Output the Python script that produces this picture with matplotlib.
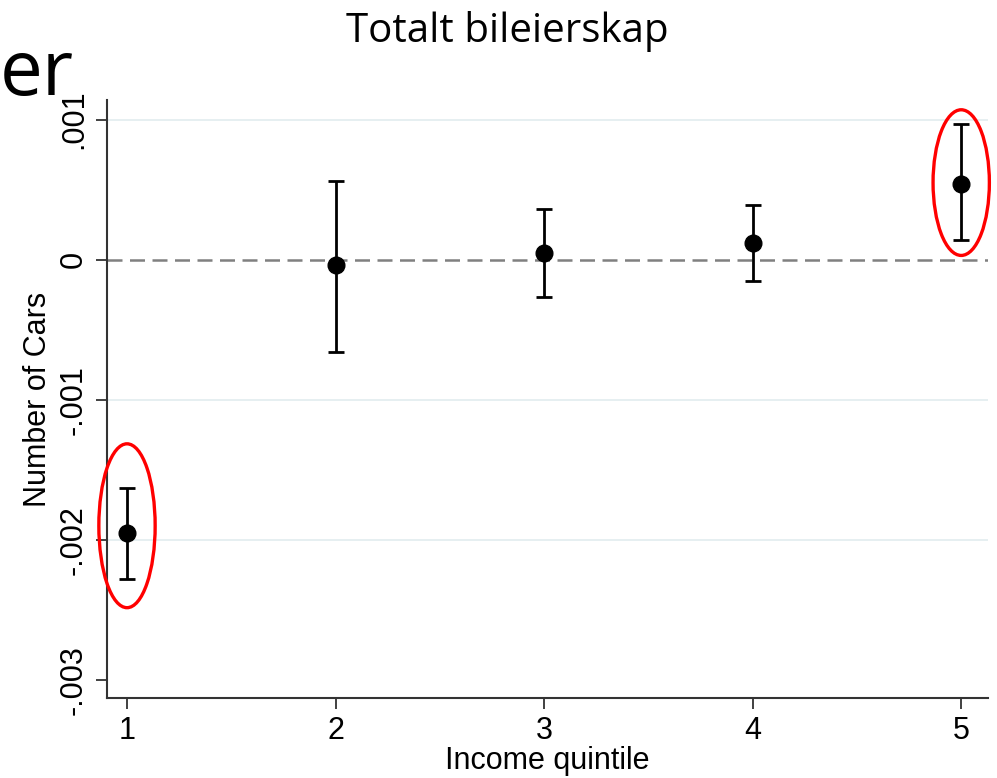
import matplotlib.pyplot as plt
from matplotlib.patches import Ellipse
import numpy as np

quintiles = [1, 2, 3, 4, 5]
coef = [-0.00195, -0.00004, 0.00005, 0.00012, 0.00054]
ci_low = [-0.00228, -0.00066, -0.00027, -0.00015, 0.00014]
ci_high = [-0.00163, 0.00056, 0.00036, 0.00039, 0.00097]

ytick_vals = [-0.003, -0.002, -0.001, 0, 0.001]
ytick_labels = ["-.003", "-.002", "-.001", "0", ".001"]
grid_vals = [-0.002, -0.001, 0.001]

# red rings: (quintile, centre y, height)
rings = [(1, -0.00190, 0.00117), (5, 0.00055, 0.00104)]

plt.rcParams['font.family'] = ['Liberation Sans Narrow', 'Liberation Sans', 'DejaVu Sans']

fig = plt.figure(figsize=(9.97, 7.78), dpi=100)
ax = fig.add_axes([0.1073, 0.1028, 0.884, 0.7687])

# light grid lines, dashed zero reference
for v in grid_vals:
    ax.axhline(v, color="#e4eef0", lw=1.3, zorder=0)
ax.axhline(0, color="#808080", lw=1.8, ls=(0, (6, 3)), zorder=1)

c = np.array(coef)
yerr = [c - np.array(ci_low), np.array(ci_high) - c]
ax.errorbar(quintiles, coef, yerr=yerr, fmt="o", color="black", ms=12,
            elinewidth=2, capsize=5.5, capthick=2, zorder=3)

for q, yc, h in rings:
    ax.add_patch(Ellipse((q, yc), 0.27, h, fill=False, ec="red", lw=2.4,
                         clip_on=False, zorder=4))

ax.set_xlim(0.904, 5.13)
ax.set_ylim(-0.00313, 0.00114)
ax.set_xticks(quintiles)
ax.set_yticks(ytick_vals)
ax.set_yticklabels(ytick_labels, rotation=90, va="center")
ax.tick_params(axis="both", labelsize=22, length=8, width=1.3, color="#333333", pad=5)
ax.set_xlabel("Income quintile", fontsize=22, labelpad=0)
ax.set_ylabel("Number of Cars", fontsize=22, labelpad=4)

for s in ["top", "right"]:
    ax.spines[s].set_visible(False)
for s in ["left", "bottom"]:
    ax.spines[s].set_color("#333333")
    ax.spines[s].set_linewidth(1.5)

fig.text(0.509, 0.960, "Totalt bileierskap", ha="center", va="center",
         fontsize=29, family=["Open Sans", "DejaVu Sans"])
fig.text(0.0, 0.878, "er", ha="left", va="baseline",
         fontsize=55, family=["Open Sans", "DejaVu Sans"])

fig.savefig("out.png", dpi=100)
